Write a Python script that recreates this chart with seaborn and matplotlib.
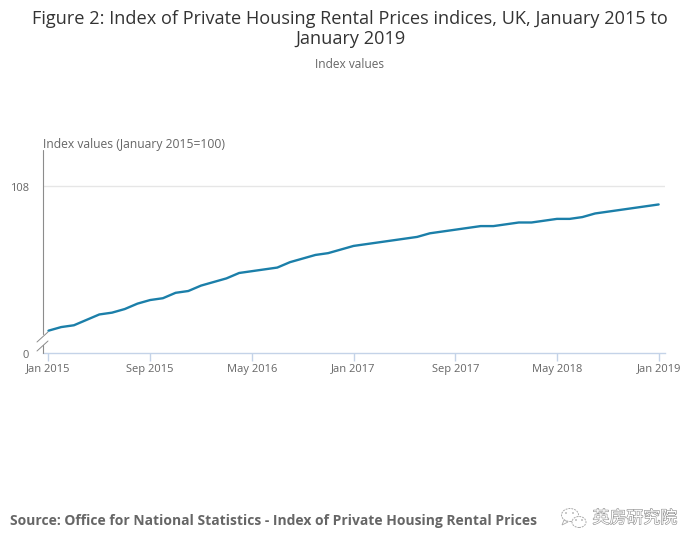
import matplotlib
matplotlib.use('Agg')
import matplotlib.pyplot as plt
import matplotlib.patheffects as pe
from matplotlib.lines import Line2D
from matplotlib.patches import Ellipse, Polygon
from matplotlib.transforms import ScaledTranslation
import pandas as pd
import seaborn as sns

# Monthly index, Jan 2015 to Jan 2019
months = pd.date_range('2015-01-01', '2019-01-01', freq='MS').strftime('%b %Y').tolist()
index_values = [100.0, 100.2, 100.3, 100.6, 100.9, 101.0, 101.2, 101.5, 101.7, 101.8,
                102.1, 102.2, 102.5, 102.7, 102.9, 103.2, 103.3, 103.4, 103.5, 103.8,
                104.0, 104.2, 104.3, 104.5, 104.7, 104.8, 104.9, 105.0, 105.1, 105.2,
                105.4, 105.5, 105.6, 105.7, 105.8, 105.8, 105.9, 106.0, 106.0, 106.1,
                106.2, 106.2, 106.3, 106.5, 106.6, 106.7, 106.8, 106.9, 107.0]
x_tick_labels = ['Jan 2015', 'Sep 2015', 'May 2016', 'Jan 2017', 'Sep 2017', 'May 2018', 'Jan 2019']
y_tick_labels = ['0', '108']

W, H = 700, 549
sns.set_theme(style='white')
plt.rcParams['font.family'] = ['Open Sans', 'Noto Sans CJK SC', 'DejaVu Sans']

fig = plt.figure(figsize=(W / 100, H / 100), dpi=100, facecolor='white')
ax = fig.add_axes([42.5 / W, 1 - 352.5 / H, (665 - 42.5) / W, (352.5 - 150) / H])

df = pd.DataFrame({'month': months, 'value': index_values})
sns.lineplot(data=df, x='month', y='value', sort=False, color='#1b7fa9', linewidth=1.7, ax=ax)

# the axis is broken: the bottom of the scale is labelled 0
y_bottom = 98.79
ax.set_xlim(-0.47, 48.5)
ax.set_ylim(y_bottom, 110.02)
ax.set_xlabel('')
ax.set_ylabel('')

ax.set_xticks([months.index(m) for m in x_tick_labels])
ax.set_xticklabels(x_tick_labels)
ax.set_yticks([y_bottom, 108])
ax.set_yticklabels(y_tick_labels)
ax.tick_params(axis='x', length=6, width=1, color='#c4d3e8', labelsize=8, labelcolor='#666666', pad=2, bottom=True)
ax.tick_params(axis='y', length=0, labelsize=8, labelcolor='#666666', pad=9.5)
for lab in ax.get_yticklabels():
    lab.set_transform(lab.get_transform() + ScaledTranslation(0, -0.01, fig.dpi_scale_trans))
ax.yaxis.grid(False)
ax.axhline(108, color='#e6e6e6', linewidth=1, zorder=0)

for s in ['top', 'right', 'left']:
    ax.spines[s].set_visible(False)
ax.spines['bottom'].set_color('#c4d3e8')
ax.spines['bottom'].set_linewidth(1)


def px_line(xs, ys, color='#8c8c8c', lw=0.8):
    fig.add_artist(Line2D([x / W for x in xs], [1 - y / H for y in ys], color=color, linewidth=lw))


# y axis with break marks
px_line([42.5, 42.5], [150, 334])
px_line([42.5, 42.5], [345, 352.5])
px_line([37, 48], [342, 332], lw=0.7)
px_line([37, 48], [351, 341], lw=0.7)

fig.text(350 / W, 1 - 18.5 / H, 'Figure 2: Index of Private Housing Rental Prices indices, UK, January 2015 to',
         ha='center', va='center', fontsize=13.1, color='#333333')
fig.text(350 / W, 1 - 39 / H, 'January 2019', ha='center', va='center', fontsize=13.1, color='#333333')
fig.text(349.5 / W, 1 - 65 / H, 'Index values', ha='center', va='center', fontsize=8.6, color='#666666')
fig.text(43 / W, 1 - 144 / H, 'Index values (January 2015=100)', ha='left', va='center', fontsize=8.7, color='#666666')
fig.text(10 / W, 1 - 521.5 / H, 'Source: Office for National Statistics - Index of Private Housing Rental Prices',
         ha='left', va='center', fontsize=10, fontweight='bold', color='#666666')

# watermark
fig.text(592.5 / W, 1 - 519 / H, '英房研究院', ha='left', va='center', fontsize=12.2, color='white',
         path_effects=[pe.withStroke(linewidth=0.8, foreground='#8a8a8a')])
for cx, cy, w, h in [(570, 515, 17, 13), (579, 522, 14, 11)]:
    fig.add_artist(Ellipse((cx / W, 1 - cy / H), w / W, h / H, transform=fig.transFigure,
                           facecolor='white', edgecolor='#aaaaaa', linewidth=0.7, linestyle=(0, (2, 1))))
fig.add_artist(Polygon([(564 / W, 1 - 520 / H), (562 / W, 1 - 525 / H), (568 / W, 1 - 522 / H)],
                       transform=fig.transFigure, facecolor='white', edgecolor='#aaaaaa', linewidth=0.6))
for dx, dy in [(566, 513), (573, 513), (576, 520), (582, 520)]:
    fig.add_artist(Ellipse((dx / W, 1 - dy / H), 1.6 / W, 1.6 / H, transform=fig.transFigure,
                           facecolor='#999999', edgecolor='none'))

fig.savefig('out.png', dpi=100)
